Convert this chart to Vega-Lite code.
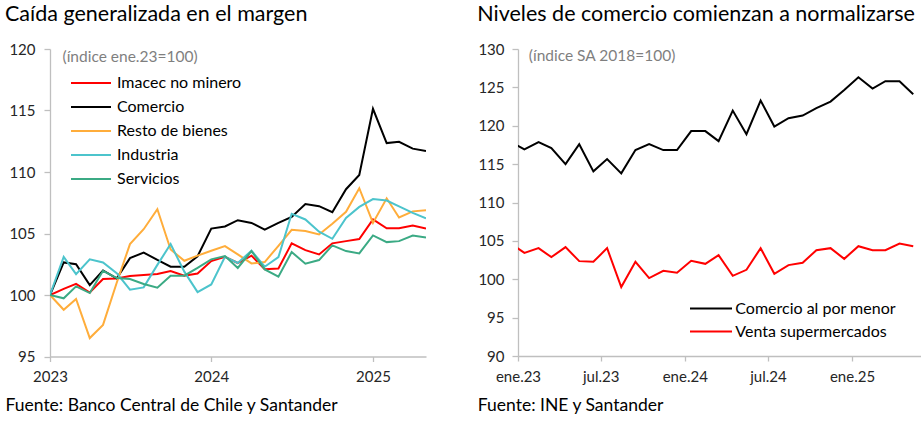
{
"$schema":"https://vega.github.io/schema/vega-lite/v6.json",
"background":"white",
"padding":{"left":5,"top":4,"right":0,"bottom":0},
"spacing":51,
"resolve":{"scale":{"color":"independent"},"legend":{"color":"independent"}},
"config":{"font":"Lato","view":{"stroke":null},"title":{"font":"Lato","fontSize":21.5,"fontWeight":"normal","color":"#000000","anchor":"start","frame":"group"},"axis":{"grid":false,"domainColor":"#BFBFBF","tickColor":"#BFBFBF","domainWidth":1.3,"tickWidth":1.3,"labelColor":"#262626","labelFont":"Lato","labelFontSize":15,"titleFont":"Lato","titleFontWeight":"normal"},"legend":{"labelFont":"Lato","labelFontSize":16,"labelColor":"#000000","labelLimit":400}},
"datasets":{
"izq":[
{"d":"2023-01-01","s":"Imacec no minero","v":100},{"d":"2023-02-01","s":"Imacec no minero","v":100.5},{"d":"2023-03-01","s":"Imacec no minero","v":100.9},{"d":"2023-04-01","s":"Imacec no minero","v":100.2},{"d":"2023-05-01","s":"Imacec no minero","v":101.3},{"d":"2023-06-01","s":"Imacec no minero","v":101.35},{"d":"2023-07-01","s":"Imacec no minero","v":101.55},{"d":"2023-08-01","s":"Imacec no minero","v":101.62},{"d":"2023-09-01","s":"Imacec no minero","v":101.7},{"d":"2023-10-01","s":"Imacec no minero","v":101.95},{"d":"2023-11-01","s":"Imacec no minero","v":101.57},{"d":"2023-12-01","s":"Imacec no minero","v":101.75},{"d":"2024-01-01","s":"Imacec no minero","v":102.76},{"d":"2024-02-01","s":"Imacec no minero","v":103.1},{"d":"2024-03-01","s":"Imacec no minero","v":102.6},{"d":"2024-04-01","s":"Imacec no minero","v":103.2},{"d":"2024-05-01","s":"Imacec no minero","v":102.1},{"d":"2024-06-01","s":"Imacec no minero","v":102.15},{"d":"2024-07-01","s":"Imacec no minero","v":104.2},{"d":"2024-08-01","s":"Imacec no minero","v":103.65},{"d":"2024-09-01","s":"Imacec no minero","v":103.3},{"d":"2024-10-01","s":"Imacec no minero","v":104.2},{"d":"2024-11-01","s":"Imacec no minero","v":104.38},{"d":"2024-12-01","s":"Imacec no minero","v":104.55},{"d":"2025-01-01","s":"Imacec no minero","v":106.15},{"d":"2025-02-01","s":"Imacec no minero","v":105.42},{"d":"2025-03-01","s":"Imacec no minero","v":105.42},{"d":"2025-04-01","s":"Imacec no minero","v":105.65},{"d":"2025-05-01","s":"Imacec no minero","v":105.4},
{"d":"2023-01-01","s":"Comercio","v":100},{"d":"2023-02-01","s":"Comercio","v":102.65},{"d":"2023-03-01","s":"Comercio","v":102.5},{"d":"2023-04-01","s":"Comercio","v":100.8},{"d":"2023-05-01","s":"Comercio","v":102.0},{"d":"2023-06-01","s":"Comercio","v":101.35},{"d":"2023-07-01","s":"Comercio","v":103.0},{"d":"2023-08-01","s":"Comercio","v":103.45},{"d":"2023-09-01","s":"Comercio","v":102.85},{"d":"2023-10-01","s":"Comercio","v":102.3},{"d":"2023-11-01","s":"Comercio","v":102.3},{"d":"2023-12-01","s":"Comercio","v":103.15},{"d":"2024-01-01","s":"Comercio","v":105.4},{"d":"2024-02-01","s":"Comercio","v":105.57},{"d":"2024-03-01","s":"Comercio","v":106.08},{"d":"2024-04-01","s":"Comercio","v":105.86},{"d":"2024-05-01","s":"Comercio","v":105.32},{"d":"2024-06-01","s":"Comercio","v":105.86},{"d":"2024-07-01","s":"Comercio","v":106.35},{"d":"2024-08-01","s":"Comercio","v":107.4},{"d":"2024-09-01","s":"Comercio","v":107.22},{"d":"2024-10-01","s":"Comercio","v":106.73},{"d":"2024-11-01","s":"Comercio","v":108.6},{"d":"2024-12-01","s":"Comercio","v":109.76},{"d":"2025-01-01","s":"Comercio","v":115.14},{"d":"2025-02-01","s":"Comercio","v":112.35},{"d":"2025-03-01","s":"Comercio","v":112.46},{"d":"2025-04-01","s":"Comercio","v":111.9},{"d":"2025-05-01","s":"Comercio","v":111.7},
{"d":"2023-01-01","s":"Resto de bienes","v":100},{"d":"2023-02-01","s":"Resto de bienes","v":98.8},{"d":"2023-03-01","s":"Resto de bienes","v":99.68},{"d":"2023-04-01","s":"Resto de bienes","v":96.5},{"d":"2023-05-01","s":"Resto de bienes","v":97.57},{"d":"2023-06-01","s":"Resto de bienes","v":101.0},{"d":"2023-07-01","s":"Resto de bienes","v":104.14},{"d":"2023-08-01","s":"Resto de bienes","v":105.35},{"d":"2023-09-01","s":"Resto de bienes","v":106.97},{"d":"2023-10-01","s":"Resto de bienes","v":103.7},{"d":"2023-11-01","s":"Resto de bienes","v":102.78},{"d":"2023-12-01","s":"Resto de bienes","v":103.2},{"d":"2024-01-01","s":"Resto de bienes","v":103.6},{"d":"2024-02-01","s":"Resto de bienes","v":103.97},{"d":"2024-03-01","s":"Resto de bienes","v":103.3},{"d":"2024-04-01","s":"Resto de bienes","v":102.57},{"d":"2024-05-01","s":"Resto de bienes","v":102.68},{"d":"2024-06-01","s":"Resto de bienes","v":104.0},{"d":"2024-07-01","s":"Resto de bienes","v":105.3},{"d":"2024-08-01","s":"Resto de bienes","v":105.2},{"d":"2024-09-01","s":"Resto de bienes","v":104.92},{"d":"2024-10-01","s":"Resto de bienes","v":105.8},{"d":"2024-11-01","s":"Resto de bienes","v":106.76},{"d":"2024-12-01","s":"Resto de bienes","v":108.68},{"d":"2025-01-01","s":"Resto de bienes","v":105.86},{"d":"2025-02-01","s":"Resto de bienes","v":107.86},{"d":"2025-03-01","s":"Resto de bienes","v":106.3},{"d":"2025-04-01","s":"Resto de bienes","v":106.8},{"d":"2025-05-01","s":"Resto de bienes","v":106.9},
{"d":"2023-01-01","s":"Industria","v":100},{"d":"2023-02-01","s":"Industria","v":103.1},{"d":"2023-03-01","s":"Industria","v":101.7},{"d":"2023-04-01","s":"Industria","v":102.9},{"d":"2023-05-01","s":"Industria","v":102.65},{"d":"2023-06-01","s":"Industria","v":101.78},{"d":"2023-07-01","s":"Industria","v":100.43},{"d":"2023-08-01","s":"Industria","v":100.62},{"d":"2023-09-01","s":"Industria","v":102.45},{"d":"2023-10-01","s":"Industria","v":104.14},{"d":"2023-11-01","s":"Industria","v":101.9},{"d":"2023-12-01","s":"Industria","v":100.24},{"d":"2024-01-01","s":"Industria","v":100.86},{"d":"2024-02-01","s":"Industria","v":103.1},{"d":"2024-03-01","s":"Industria","v":102.6},{"d":"2024-04-01","s":"Industria","v":103.6},{"d":"2024-05-01","s":"Industria","v":102.3},{"d":"2024-06-01","s":"Industria","v":103.08},{"d":"2024-07-01","s":"Industria","v":106.6},{"d":"2024-08-01","s":"Industria","v":106.14},{"d":"2024-09-01","s":"Industria","v":105.15},{"d":"2024-10-01","s":"Industria","v":104.57},{"d":"2024-11-01","s":"Industria","v":106.27},{"d":"2024-12-01","s":"Industria","v":107.16},{"d":"2025-01-01","s":"Industria","v":107.8},{"d":"2025-02-01","s":"Industria","v":107.68},{"d":"2025-03-01","s":"Industria","v":107.2},{"d":"2025-04-01","s":"Industria","v":106.68},{"d":"2025-05-01","s":"Industria","v":106.24},
{"d":"2023-01-01","s":"Servicios","v":100},{"d":"2023-02-01","s":"Servicios","v":99.73},{"d":"2023-03-01","s":"Servicios","v":100.7},{"d":"2023-04-01","s":"Servicios","v":100.16},{"d":"2023-05-01","s":"Servicios","v":101.97},{"d":"2023-06-01","s":"Servicios","v":101.38},{"d":"2023-07-01","s":"Servicios","v":101.3},{"d":"2023-08-01","s":"Servicios","v":100.9},{"d":"2023-09-01","s":"Servicios","v":100.6},{"d":"2023-10-01","s":"Servicios","v":101.57},{"d":"2023-11-01","s":"Servicios","v":101.57},{"d":"2023-12-01","s":"Servicios","v":102.2},{"d":"2024-01-01","s":"Servicios","v":102.9},{"d":"2024-02-01","s":"Servicios","v":103.16},{"d":"2024-03-01","s":"Servicios","v":102.2},{"d":"2024-04-01","s":"Servicios","v":103.57},{"d":"2024-05-01","s":"Servicios","v":102.08},{"d":"2024-06-01","s":"Servicios","v":101.49},{"d":"2024-07-01","s":"Servicios","v":103.49},{"d":"2024-08-01","s":"Servicios","v":102.54},{"d":"2024-09-01","s":"Servicios","v":102.84},{"d":"2024-10-01","s":"Servicios","v":104.03},{"d":"2024-11-01","s":"Servicios","v":103.57},{"d":"2024-12-01","s":"Servicios","v":103.38},{"d":"2025-01-01","s":"Servicios","v":104.84},{"d":"2025-02-01","s":"Servicios","v":104.3},{"d":"2025-03-01","s":"Servicios","v":104.38},{"d":"2025-04-01","s":"Servicios","v":104.84},{"d":"2025-05-01","s":"Servicios","v":104.68}
],
"der":[
{"d":"2022-12-15","s":"Comercio al por menor","v":117.97},{"d":"2023-01-15","s":"Comercio al por menor","v":116.91},{"d":"2023-02-15","s":"Comercio al por menor","v":117.87},{"d":"2023-03-15","s":"Comercio al por menor","v":117.09},{"d":"2023-04-15","s":"Comercio al por menor","v":115.0},{"d":"2023-05-15","s":"Comercio al por menor","v":117.6},{"d":"2023-06-15","s":"Comercio al por menor","v":114.06},{"d":"2023-07-15","s":"Comercio al por menor","v":115.66},{"d":"2023-08-15","s":"Comercio al por menor","v":113.8},{"d":"2023-09-15","s":"Comercio al por menor","v":116.83},{"d":"2023-10-15","s":"Comercio al por menor","v":117.6},{"d":"2023-11-15","s":"Comercio al por menor","v":116.83},{"d":"2023-12-15","s":"Comercio al por menor","v":116.83},{"d":"2024-01-15","s":"Comercio al por menor","v":119.3},{"d":"2024-02-15","s":"Comercio al por menor","v":119.3},{"d":"2024-03-15","s":"Comercio al por menor","v":118.0},{"d":"2024-04-15","s":"Comercio al por menor","v":121.98},{"d":"2024-05-15","s":"Comercio al por menor","v":118.9},{"d":"2024-06-15","s":"Comercio al por menor","v":123.28},{"d":"2024-07-15","s":"Comercio al por menor","v":119.9},{"d":"2024-08-15","s":"Comercio al por menor","v":120.99},{"d":"2024-09-15","s":"Comercio al por menor","v":121.33},{"d":"2024-10-15","s":"Comercio al por menor","v":122.29},{"d":"2024-11-15","s":"Comercio al por menor","v":123.15},{"d":"2024-12-15","s":"Comercio al por menor","v":124.67},{"d":"2025-01-15","s":"Comercio al por menor","v":126.32},{"d":"2025-02-15","s":"Comercio al por menor","v":124.84},{"d":"2025-03-15","s":"Comercio al por menor","v":125.8},{"d":"2025-04-15","s":"Comercio al por menor","v":125.8},{"d":"2025-05-15","s":"Comercio al por menor","v":124.1},
{"d":"2022-12-15","s":"Venta supermercados","v":104.68},{"d":"2023-01-15","s":"Venta supermercados","v":103.44},{"d":"2023-02-15","s":"Venta supermercados","v":104.05},{"d":"2023-03-15","s":"Venta supermercados","v":102.88},{"d":"2023-04-15","s":"Venta supermercados","v":104.18},{"d":"2023-05-15","s":"Venta supermercados","v":102.36},{"d":"2023-06-15","s":"Venta supermercados","v":102.27},{"d":"2023-07-15","s":"Venta supermercados","v":104.05},{"d":"2023-08-15","s":"Venta supermercados","v":98.98},{"d":"2023-09-15","s":"Venta supermercados","v":102.27},{"d":"2023-10-15","s":"Venta supermercados","v":100.15},{"d":"2023-11-15","s":"Venta supermercados","v":101.1},{"d":"2023-12-15","s":"Venta supermercados","v":100.84},{"d":"2024-01-15","s":"Venta supermercados","v":102.4},{"d":"2024-02-15","s":"Venta supermercados","v":102.01},{"d":"2024-03-15","s":"Venta supermercados","v":103.14},{"d":"2024-04-15","s":"Venta supermercados","v":100.45},{"d":"2024-05-15","s":"Venta supermercados","v":101.23},{"d":"2024-06-15","s":"Venta supermercados","v":104.05},{"d":"2024-07-15","s":"Venta supermercados","v":100.71},{"d":"2024-08-15","s":"Venta supermercados","v":101.84},{"d":"2024-09-15","s":"Venta supermercados","v":102.14},{"d":"2024-10-15","s":"Venta supermercados","v":103.79},{"d":"2024-11-15","s":"Venta supermercados","v":104.05},{"d":"2024-12-15","s":"Venta supermercados","v":102.66},{"d":"2025-01-15","s":"Venta supermercados","v":104.31},{"d":"2025-02-15","s":"Venta supermercados","v":103.79},{"d":"2025-03-15","s":"Venta supermercados","v":103.79},{"d":"2025-04-15","s":"Venta supermercados","v":104.65},{"d":"2025-05-15","s":"Venta supermercados","v":104.31}
]
},
"hconcat":[
{
"width":376,"height":307.5,
"title":{"text":"Caída generalizada en el margen","dx":-45,"offset":16.5},
"layer":[
{"mark":{"type":"rule","color":"#7F7F7F","strokeWidth":2,"strokeDash":[2,2.5]},
"encoding":{"y":{"datum":100,"type":"quantitative","scale":{"domain":[95,120],"nice":false,"zero":false},"axis":{"values":[95,100,105,110,115,120],"tickSize":6,"labelPadding":9,"title":"(índice ene.23=100)","titleAngle":0,"titleX":12,"titleY":7,"titleAlign":"left","titleBaseline":"middle","titleColor":"#7F7F7F","titleFontSize":15.5}}}},
{"data":{"name":"izq"},
"mark":{"type":"line","strokeWidth":2,"clip":true},
"encoding":{
"x":{"field":"d","type":"temporal","scale":{"type":"utc","domain":[{"year":2023,"month":1,"date":1,"utc":true},{"year":2025,"month":5,"date":1,"utc":true}]},"axis":{"values":[{"year":2023,"month":1,"date":1,"utc":true},{"year":2024,"month":1,"date":1,"utc":true},{"year":2025,"month":1,"date":1,"utc":true}],"labelExpr":"utcFormat(datum.value,'%Y')","tickSize":5,"labelPadding":8,"labelFlush":false,"title":"Fuente: Banco Central de Chile y Santander","titleX":-45,"titleY":48.5,"titleAlign":"left","titleAnchor":"start","titleBaseline":"middle","titleFontSize":17.5,"titleColor":"#000000"}},
"y":{"field":"v","type":"quantitative","scale":{"domain":[95,120],"nice":false,"zero":false},"axis":{"values":[95,100,105,110,115,120],"tickSize":6,"labelPadding":9,"title":"(índice ene.23=100)","titleAngle":0,"titleX":12,"titleY":7,"titleAlign":"left","titleBaseline":"middle","titleColor":"#7F7F7F","titleFontSize":15.5}},
"color":{"field":"s","type":"nominal","sort":null,"scale":{"domain":["Imacec no minero","Comercio","Resto de bienes","Industria","Servicios"],"range":["#FF0000","#000000","#FFAD3B","#4CC4CC","#3BAA84"]},"legend":{"orient":"none","legendX":32,"legendY":25,"title":null,"symbolType":"M-2.5,0H2.5","symbolSize":256,"symbolStrokeWidth":2,"symbolFillColor":"transparent","labelOffset":17,"rowPadding":7}}
}}
]
},
{
"width":403,"height":307,
"title":{"text":"Niveles de comercio comienzan a normalizarse","dx":-40.7,"offset":16.5},
"data":{"name":"der"},
"mark":{"type":"line","strokeWidth":2,"clip":true},
"encoding":{
"x":{"field":"d","type":"temporal","scale":{"type":"utc","domain":[{"year":2023,"month":1,"date":1,"utc":true},{"year":2025,"month":6,"date":1,"utc":true}]},"axis":{"values":[{"year":2023,"month":1,"date":1,"utc":true},{"year":2023,"month":7,"date":1,"utc":true},{"year":2024,"month":1,"date":1,"utc":true},{"year":2024,"month":7,"date":1,"utc":true},{"year":2025,"month":1,"date":1,"utc":true}],"labelExpr":"(utcmonth(datum.value)==0?'ene':'jul')+'.'+utcFormat(datum.value,'%y')","tickSize":5,"labelPadding":8,"labelFlush":false,"title":"Fuente: INE y Santander","titleX":-40.7,"titleY":49,"titleAlign":"left","titleAnchor":"start","titleBaseline":"middle","titleFontSize":17.5,"titleColor":"#000000"}},
"y":{"field":"v","type":"quantitative","scale":{"domain":[90,130],"nice":false,"zero":false},"axis":{"values":[90,95,100,105,110,115,120,125,130],"tickSize":6,"labelPadding":8,"title":"(índice SA 2018=100)","titleAngle":0,"titleX":10.3,"titleY":6,"titleAlign":"left","titleBaseline":"middle","titleColor":"#7F7F7F","titleFontSize":15.5}},
"color":{"field":"s","type":"nominal","sort":null,"scale":{"domain":["Comercio al por menor","Venta supermercados"],"range":["#000000","#FF0000"]},"legend":{"orient":"none","legendX":184,"legendY":250.5,"title":null,"symbolType":"M-2.625,0H2.625","symbolSize":256,"symbolStrokeWidth":2,"symbolFillColor":"transparent","labelOffset":15.3,"rowPadding":6}}
}
}
]
}
